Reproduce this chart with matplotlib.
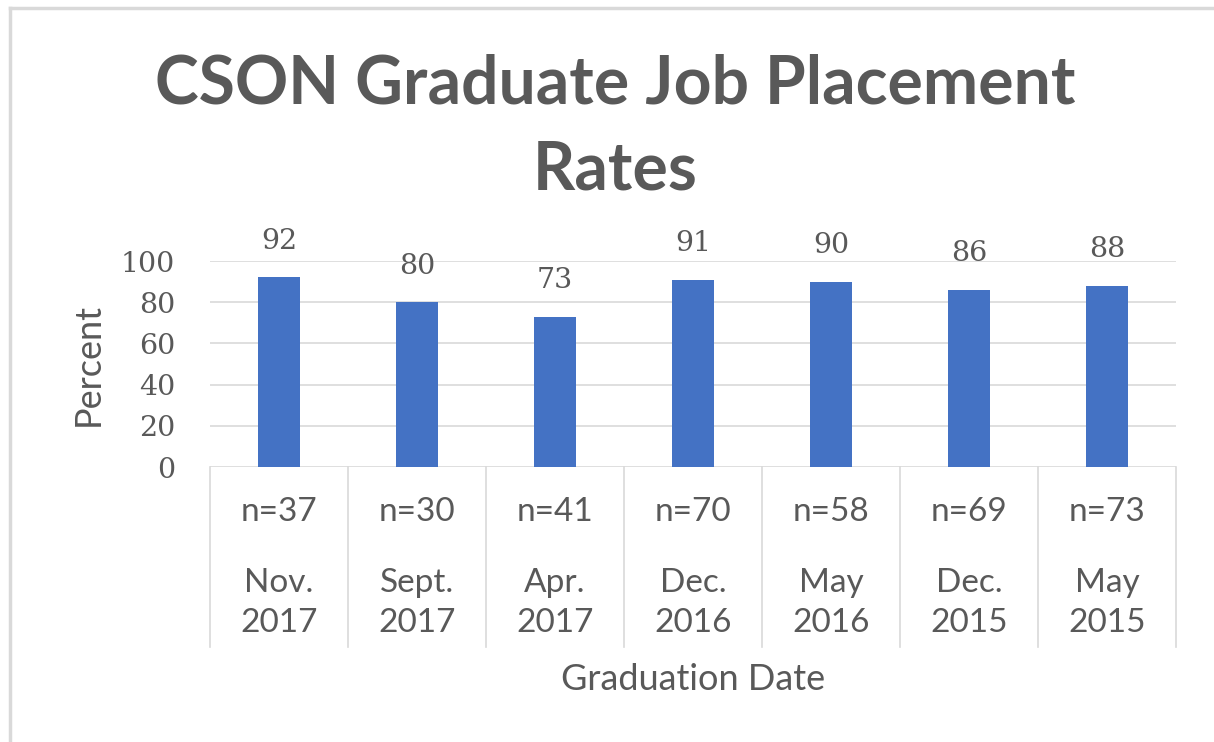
import matplotlib
matplotlib.use("Agg")
import matplotlib.pyplot as plt
import matplotlib.transforms as mtransforms
from matplotlib.lines import Line2D

# data
dates = ["Nov.\n2017", "Sept.\n2017", "Apr.\n2017", "Dec.\n2016", "May\n2016", "Dec.\n2015", "May\n2015"]
counts = ["n=37", "n=30", "n=41", "n=70", "n=58", "n=69", "n=73"]
rates = [92, 80, 73, 91, 90, 86, 88]
yticks = [0, 20, 40, 60, 80, 100]

W, H = 1214, 742
txt = "#595959"
grid = "#D9D9D9"
bar_color = "#4472C4"
sans = ["Lato", "DejaVu Sans"]
serif = ["DejaVu Serif"]

fig = plt.figure(figsize=(W / 100, H / 100), dpi=100)
ax = fig.add_axes([210 / W, 1 - 467 / H, (1176 - 210) / W, (467 - 261) / H])

x = list(range(len(rates)))
ax.bar(x, rates, width=0.31, color=bar_color, zorder=3)
ax.set_xlim(-0.5, len(rates) - 0.5)
ax.set_ylim(0, 100)
ax.set_yticks(yticks)
ax.set_yticklabels([str(v) for v in yticks], fontfamily=serif, fontsize=20.5, color=txt)
ax.tick_params(axis="y", length=0, pad=25)
ax.set_xticks([])
for s in ax.spines.values():
    s.set_visible(False)
ax.yaxis.grid(True, color=grid, lw=1.2, zorder=0)

for xi, v in zip(x, rates):
    ax.annotate(str(v), (xi, v), xytext=(0, 26), textcoords="offset points",
                ha="center", va="center", fontfamily=serif, fontsize=20.5, color=txt)

# category boxes under the axis
trans = mtransforms.blended_transform_factory(ax.transData, fig.transFigure)
y_top = 1 - 467 / H
y_bot = 1 - 647 / H
for i in range(len(rates) + 1):
    ax.add_line(Line2D([i - 0.5, i - 0.5], [y_top, y_bot], transform=trans,
                       color=grid, lw=1.2, clip_on=False))
for xi, c, d in zip(x, counts, dates):
    ax.text(xi, 1 - 512 / H, c, transform=trans, ha="center", va="center",
            fontfamily=sans, fontsize=24, color=txt)
    ax.text(xi, 1 - 603 / H, d, transform=trans, ha="center", va="center",
            fontfamily=sans, fontsize=24, color=txt, linespacing=1.45)

fig.text(693 / W, 1 - 680 / H, "Graduation Date", ha="center", va="center",
         fontfamily=sans, fontsize=26, color=txt)
fig.text(88 / W, 1 - 364 / H, "Percent", ha="center", va="center", rotation=90,
         fontfamily=sans, fontsize=26, color=txt)

fig.text(615 / W, 1 - 85 / H, "CSON Graduate Job Placement", ha="center", va="center",
         fontfamily=sans, fontweight="bold", fontsize=47.5, color=txt)
fig.text(615 / W, 1 - 170 / H, "Rates", ha="center", va="center",
         fontfamily=sans, fontweight="bold", fontsize=47.5, color=txt)

# outer chart border (top and left visible)
fig.add_artist(Line2D([10 / W, 10 / W], [0, 1 - 8 / H], transform=fig.transFigure, color=grid, lw=2.5))
fig.add_artist(Line2D([10 / W, 1], [1 - 8 / H, 1 - 8 / H], transform=fig.transFigure, color=grid, lw=2.5))

fig.savefig("out.png", dpi=100)
